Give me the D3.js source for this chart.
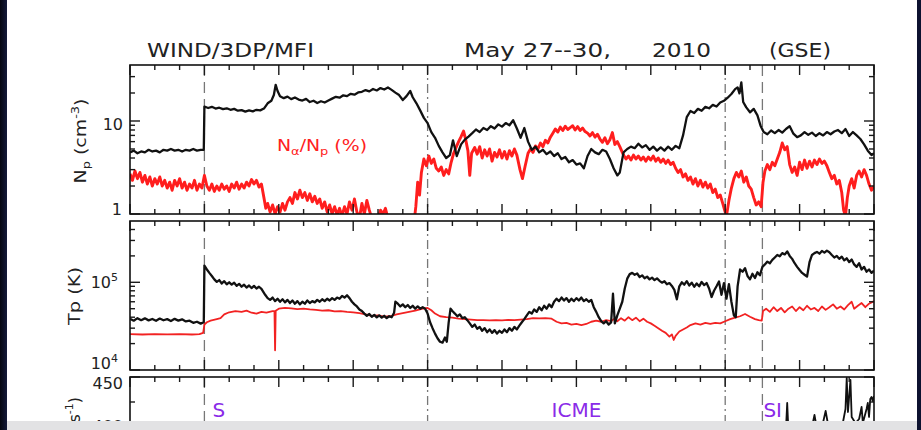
<!DOCTYPE html>
<html>
<head>
<meta charset="utf-8">
<script src="https://cdn.jsdelivr.net/npm/d3@7"></script>
<style>
  html, body { margin: 0; padding: 0; background: #fff; }
  svg { display: block; }
</style>
</head>
<body>
<svg id="chart" width="921" height="430"></svg>
<script>
// WIND 3DP/MFI plasma summary, May 27--30 2010 (GSE).
// Time is given in hours from the left edge of the plot window (60 h span).

// Proton density Np (cm^-3): [hour, value]
const protonDensity = [
  [0,4.6],[0.3,4.8],[0.6,4.5],[0.9,4.7],[1.2,4.6],[1.5,4.9],[1.8,4.7],[2.1,4.8],[2.4,4.6],[2.7,4.9],
  [3,4.8],[3.3,5.0],[3.6,4.8],[3.9,4.9],[4.2,4.7],[4.5,4.9],[4.8,4.8],[5.1,5.0],[5.4,4.8],[5.7,4.9],[5.95,4.9],
  [6,14.3],[6.3,13.8],[6.6,14.2],[6.9,13.6],[7.2,13.9],[7.5,13.4],[7.8,13.7],[8.1,13.2],[8.4,13.5],[8.7,12.9],
  [9,13.1],[9.3,12.6],[9.6,13.0],[9.9,12.7],[10.2,13.2],[10.5,13.0],[10.8,13.6],[11.1,15.5],[11.4,16.5],
  [11.6,19],[11.75,24.5],[11.9,21],[12.1,18.5],[12.4,17.6],[12.7,18.3],[13,17.2],[13.3,17.9],[13.6,17.0],
  [13.9,16.6],[14.2,17.3],[14.5,16.0],[14.8,16.5],[15.1,15.6],[15.4,16.3],[15.7,15.8],[16,16.6],
  [16.3,17.4],[16.6,18.2],[16.9,17.8],[17.2,18.9],[17.5,18.5],[17.8,19.6],[18.1,19.2],[18.4,20.3],
  [18.7,20.6],[19,21.5],[19.3,20.8],[19.6,22.1],[19.9,21.3],[20.2,22.6],[20.5,21.8],[20.8,22.9],
  [21.1,21.6],[21.4,20.2],[21.7,19.0],[22,16.8],[22.3,18.5],[22.6,21.0],[22.8,18.0],[23.1,15.5],[23.4,13.0],
  [23.7,10.8],[24,9.5],[24.3,7.6],[24.6,6.6],[24.9,5.4],[25.2,4.6],[25.5,4.0],[25.8,4.3],[26.05,6.2],
  [26.35,4.2],[26.7,5.6],[27,6.3],[27.3,6.8],[27.6,7.4],[27.9,8.1],[28.2,7.6],[28.5,8.4],[28.8,8.0],
  [29.1,8.8],[29.4,8.3],[29.7,9.2],[30,8.7],[30.3,9.5],[30.6,9.0],[30.9,10.2],[31.2,8.3],[31.5,6.6],
  [31.8,8.4],[32.1,6.0],[32.4,4.9],[32.7,5.3],[33,4.6],[33.3,4.9],[33.6,4.4],[33.9,4.7],[34.2,4.2],
  [34.5,4.5],[34.8,3.9],[35.1,4.1],[35.4,3.6],[35.7,3.8],[36,3.4],[36.3,3.5],[36.6,3.1],[36.9,4.2],
  [37.2,5.0],[37.5,4.6],[37.8,4.4],[38.1,4.9],[38.4,4.7],[38.7,3.9],[39,3.1],[39.3,2.6],[39.5,2.8],
  [39.8,4.6],[40.1,5.0],[40.4,5.3],[40.7,5.1],[41,5.7],[41.3,5.2],[41.6,5.5],[41.9,4.9],[42.2,5.3],
  [42.5,4.8],[42.8,5.2],[43.1,4.8],[43.4,5.3],[43.7,4.9],[44,5.4],[44.3,5.1],[44.6,7.0],[44.9,11.0],
  [45.2,12.8],[45.5,12.2],[45.8,13.5],[46.1,12.9],[46.4,14.2],[46.7,13.7],[47,14.9],[47.3,14.3],
  [47.6,15.8],[47.9,16.5],[48.2,17.8],[48.5,19.5],[48.8,22],[49.0,23],[49.15,19.8],[49.3,26],
  [49.45,16],[49.7,14],[50,12.4],[50.3,13.5],[50.6,11.5],[50.85,8.9],[51.1,7.6],[51.4,7.2],[51.7,7.9],
  [52,7.4],[52.3,8.0],[52.6,7.5],[52.9,8.2],[53.2,8.8],[53.5,7.3],[53.8,6.7],[54.1,7.0],[54.4,7.6],
  [54.7,7.1],[55,7.5],[55.3,6.9],[55.6,7.4],[55.9,7.0],[56.2,7.6],[56.5,7.2],[56.8,7.7],[57.1,8.0],
  [57.4,7.4],[57.7,8.2],[58,6.9],[58.3,7.6],[58.6,7.0],[58.9,6.4],[59.2,5.6],[59.5,4.8],[59.8,4.3],[60,4.5]
];

// Alpha-to-proton density ratio Na/Np (%): [hour, value]
const alphaRatio = [
  [0,2.7],[0.2,2.3],[0.4,2.9],[0.6,2.4],[0.8,2.8],[1,2.2],[1.2,2.6],[1.4,2.1],[1.6,2.5],[1.8,2.0],
  [2,2.4],[2.2,2.1],[2.4,2.5],[2.6,2.0],[2.8,2.3],[3,1.9],[3.2,2.2],[3.4,1.8],[3.6,2.3],[3.8,2.0],
  [4,2.4],[4.2,1.9],[4.4,2.2],[4.6,1.8],[4.8,2.1],[5,1.9],[5.2,2.3],[5.4,1.8],[5.6,2.1],[5.8,1.9],
  [6,2.6],[6.2,2.0],[6.4,1.8],[6.6,2.1],[6.8,1.75],[7,2.0],[7.2,1.8],[7.4,2.1],[7.6,1.85],[7.8,2.0],
  [8,1.75],[8.2,2.1],[8.4,1.9],[8.6,2.2],[8.8,1.85],[9,2.1],[9.2,1.9],[9.4,2.2],[9.6,2.0],[9.8,2.35],
  [10,2.1],[10.2,2.3],[10.4,1.95],[10.6,2.1],[10.8,1.5],[10.95,1.15],[11.1,1.3],[11.3,1.05],[11.5,1.25],
  [11.7,1.0],[11.9,1.2],[12.1,1.05],[12.3,1.3],[12.5,1.1],[12.7,1.35],[12.9,1.5],[13.1,1.3],[13.3,1.7],
  [13.5,1.45],[13.7,1.8],[13.9,1.5],[14.1,1.7],[14.3,1.4],[14.5,1.65],[14.7,1.35],[14.9,1.55],[15.1,1.3],
  [15.3,1.45],[15.5,1.15],[15.7,1.35],[15.9,1.05],[16.1,1.25],[16.3,1.0],[16.5,1.2],[16.7,0.98],
  [16.9,1.15],[17.1,0.95],[17.3,1.2],[17.5,1.0],[17.7,1.35],[17.9,1.1],[18.1,1.45],[18.3,1.05],
  [18.5,0.9],[18.7,1.3],[18.9,1.0],[19.1,1.4],[19.3,1.1],[19.5,0.9],[19.7,0.85],[20,0.9],[20.2,1.1],
  [20.4,1.0],[20.6,1.15],[20.8,0.9],[21,0.8],[21.5,0.75],[22,0.8],[22.5,0.75],[22.9,0.8],[23.05,1.2],
  [23.2,2.2],[23.35,1.6],[23.5,2.8],[23.7,3.9],[23.9,3.3],[24.1,4.2],[24.3,3.5],[24.5,3.9],[24.7,3.1],
  [24.9,2.9],[25.1,3.2],[25.3,2.6],[25.5,3.0],[25.7,2.7],[25.9,3.6],[26.1,4.5],[26.3,5.2],[26.5,6.0],
  [26.7,6.8],[26.9,7.8],[27.05,6.5],[27.25,4.8],[27.4,2.6],[27.55,4.5],[27.8,5.2],[28,4.4],[28.2,5.3],
  [28.4,4.0],[28.6,4.9],[28.8,4.2],[29,5.0],[29.2,3.7],[29.4,4.6],[29.6,4.1],[29.8,4.9],[30,4.0],
  [30.2,4.7],[30.4,3.9],[30.6,4.8],[30.8,4.2],[31,5.0],[31.2,4.3],[31.45,3.0],[31.65,2.4],[31.85,3.2],
  [32.1,4.5],[32.3,5.0],[32.5,4.6],[32.7,5.4],[32.9,5.0],[33.1,5.8],[33.3,5.3],[33.5,6.2],[33.7,5.8],
  [33.9,6.7],[34.1,7.4],[34.3,8.2],[34.5,7.6],[34.7,8.6],[34.9,7.9],[35.1,8.8],[35.3,8.1],[35.5,8.5],
  [35.7,8.9],[35.9,8.0],[36.1,8.7],[36.3,7.9],[36.5,8.4],[36.7,7.7],[36.9,7.4],[37.1,6.9],[37.3,7.5],
  [37.5,6.7],[37.7,7.2],[37.9,6.4],[38.1,5.9],[38.3,6.6],[38.5,5.7],[38.7,6.3],[38.9,7.5],[39.1,5.6],
  [39.3,6.0],[39.5,5.3],[39.8,4.3],[40,3.9],[40.2,4.2],[40.4,3.8],[40.6,4.3],[40.8,3.9],[41,4.2],
  [41.2,3.8],[41.4,4.1],[41.6,3.7],[41.8,4.1],[42,3.8],[42.2,4.2],[42.4,3.7],[42.6,4.0],[42.8,3.6],
  [43,3.9],[43.2,3.5],[43.4,3.8],[43.6,3.4],[43.8,3.6],[44,3.1],[44.2,2.8],[44.4,3.0],[44.6,2.5],
  [44.8,2.7],[45,2.3],[45.2,2.5],[45.4,2.1],[45.6,2.4],[45.8,2.0],[46,2.3],[46.2,1.95],[46.4,2.2],
  [46.6,1.9],[46.8,2.1],[47,1.7],[47.2,1.85],[47.4,1.5],[47.6,1.6],[47.8,1.3],[48,1.05],[48.1,0.95],
  [48.3,1.4],[48.5,1.9],[48.7,2.4],[48.9,2.8],[49.1,2.5],[49.3,2.9],[49.5,2.2],[49.7,2.5],[49.9,2.0],
  [50.1,1.85],[50.3,1.5],[50.5,1.25],[50.7,1.35],[50.9,1.2],[51.05,2.2],[51.2,2.9],[51.4,3.4],[51.6,3.0],
  [51.8,3.6],[52,3.3],[52.2,3.9],[52.4,4.6],[52.6,5.8],[52.8,4.9],[53,5.3],[53.2,3.4],[53.4,2.8],
  [53.6,3.2],[53.8,2.6],[54,3.6],[54.2,3.0],[54.4,3.8],[54.6,3.1],[54.8,3.7],[55,3.2],[55.2,3.8],
  [55.4,3.4],[55.6,3.9],[55.8,3.5],[56,3.7],[56.2,3.3],[56.4,2.8],[56.6,2.4],[56.8,2.6],[57,2.1],
  [57.2,2.3],[57.4,1.7],[57.55,1.1],[57.7,0.95],[57.85,1.5],[58,2.0],[58.2,2.4],[58.4,1.9],[58.6,2.6],
  [58.8,2.9],[59,2.5],[59.2,3.0],[59.4,2.6],[59.6,2.1],[59.8,1.8],[60,2.0]
];

// Proton temperature Tp (K): [hour, value]
const protonTemp = [
  [0,38500],[0.3,36500],[0.6,39000],[0.9,37000],[1.2,38800],[1.5,36800],[1.8,38200],[2.1,36400],
  [2.4,38600],[2.7,36900],[3,38000],[3.3,36200],[3.6,38300],[3.9,36600],[4.2,37800],[4.5,35800],
  [4.8,36500],[5.1,34500],[5.4,35500],[5.7,33800],[5.95,35000],[6,155000],[6.2,140000],[6.4,128000],
  [6.6,118000],[6.8,108000],[7,101000],[7.2,106000],[7.4,97000],[7.6,103000],[7.8,95000],[8,100000],
  [8.2,94000],[8.4,99000],[8.6,91000],[8.8,96000],[9,89000],[9.2,94000],[9.4,87000],[9.6,92000],
  [9.8,86000],[10,91000],[10.2,85000],[10.4,89000],[10.6,84000],[10.9,72000],[11.1,66000],[11.3,63000],
  [11.5,67000],[11.7,61000],[11.9,65000],[12.1,60000],[12.3,64000],[12.5,59000],[12.7,63000],
  [12.9,58000],[13.1,62000],[13.3,57000],[13.5,61000],[13.7,56000],[13.9,60000],[14.1,57000],
  [14.3,62000],[14.5,58000],[14.7,61000],[14.9,59000],[15.1,63000],[15.3,60000],[15.5,64000],
  [15.7,61000],[15.9,65000],[16.1,62000],[16.3,66000],[16.5,63000],[16.7,67000],[16.9,65000],
  [17.1,70000],[17.3,67000],[17.5,71000],[17.7,66000],[17.9,60000],[18.1,56000],[18.3,53000],
  [18.5,49000],[18.7,47000],[18.9,44000],[19.1,41500],[19.3,43500],[19.5,40500],[19.7,42500],
  [19.9,39800],[20.1,42000],[20.3,39500],[20.5,41500],[20.7,39000],[20.9,41000],[21.1,40000],
  [21.3,45000],[21.4,60000],[21.6,57000],[21.8,53000],[22,56000],[22.2,52000],[22.4,55000],
  [22.6,51000],[22.8,54000],[23,50000],[23.2,53000],[23.4,50000],[23.6,52000],[23.8,50000],
  [24,44000],[24.2,35000],[24.4,30000],[24.6,26000],[24.8,23000],[25,21000],[25.2,20500],[25.4,23500],
  [25.55,21000],[25.7,35000],[25.85,50000],[26,47000],[26.2,44000],[26.4,41000],[26.6,43000],
  [26.8,39000],[27,40000],[27.2,37000],[27.4,34000],[27.6,31000],[27.8,33000],[28,29500],[28.2,31000],
  [28.4,28000],[28.6,30000],[28.8,27000],[29,29000],[29.2,26500],[29.4,28500],[29.6,26000],
  [29.8,28000],[30,26500],[30.2,29000],[30.4,27000],[30.6,30000],[30.8,28000],[31,31000],[31.2,29000],
  [31.4,32000],[31.6,35000],[31.8,38000],[32,42000],[32.2,46000],[32.4,44000],[32.6,49000],
  [32.8,46000],[33,52000],[33.2,48000],[33.4,54000],[33.6,50000],[33.8,56000],[34,52000],[34.2,60000],
  [34.4,65000],[34.6,61000],[34.8,67000],[35,62000],[35.2,66000],[35.4,60000],[35.6,65000],
  [35.8,61000],[36,66000],[36.2,62000],[36.4,67000],[36.6,61000],[36.8,64000],[37,60000],[37.2,63000],
  [37.4,52000],[37.6,46000],[37.8,40000],[38,36000],[38.2,34000],[38.4,36000],[38.6,33000],
  [38.8,35000],[38.95,74000],[39.1,34000],[39.3,42000],[39.5,50000],[39.7,60000],[39.9,85000],
  [40.1,110000],[40.3,124000],[40.5,128000],[40.7,122000],[40.9,126000],[41.1,115000],[41.3,120000],
  [41.5,111000],[41.7,116000],[41.9,108000],[42.1,113000],[42.3,106000],[42.5,111000],[42.7,104000],
  [42.9,99000],[43.1,103000],[43.3,95000],[43.5,98000],[43.7,91000],[43.9,82000],[44.1,64000],
  [44.3,90000],[44.5,100000],[44.7,94000],[44.9,103000],[45.1,92000],[45.3,99000],[45.5,89000],
  [45.7,97000],[45.9,90000],[46.1,101000],[46.3,93000],[46.5,98000],[46.7,85000],[46.9,68000],
  [47.1,80000],[47.3,90000],[47.5,102000],[47.7,72000],[47.9,98000],[48.1,65000],[48.3,95000],
  [48.5,60000],[48.7,42000],[48.85,40000],[49,90000],[49.2,140000],[49.4,132000],[49.6,145000],
  [49.8,118000],[50,108000],[50.2,125000],[50.4,112000],[50.6,130000],[50.8,120000],[51,150000],
  [51.2,160000],[51.4,172000],[51.6,165000],[51.8,180000],[52,192000],[52.2,205000],[52.4,198000],
  [52.6,215000],[52.8,208000],[53,225000],[53.2,200000],[53.4,185000],[53.6,165000],[53.8,150000],
  [54,138000],[54.2,128000],[54.4,122000],[54.6,116000],[54.8,170000],[55,205000],[55.2,215000],
  [55.4,222000],[55.6,212000],[55.8,228000],[56,218000],[56.2,230000],[56.4,220000],[56.6,205000],
  [56.8,192000],[57,200000],[57.2,185000],[57.4,196000],[57.6,178000],[57.8,188000],[58,170000],
  [58.2,182000],[58.4,160000],[58.6,150000],[58.8,165000],[59,140000],[59.2,150000],[59.4,132000],
  [59.6,140000],[59.8,128000],[60,136000]
];

// Expected proton temperature Texp (K): [hour, value]
const expectedTemp = [
  [0,25600],[1,25400],[2,25700],[3,25500],[4,25600],[5,25400],[5.6,25600],[5.9,26500],[6,33000],
  [6.2,35000],[6.5,36500],[7,38000],[7.3,39000],[7.6,43000],[8,45500],[8.5,47000],[9,46000],
  [9.4,47500],[9.8,45000],[10.2,44000],[10.6,46000],[11,45000],[11.5,47000],[11.65,47000],
  [11.7,16800],[11.75,47500],[12,50000],[12.5,51000],[13,50500],[13.5,49500],[14,50000],[14.5,49000],
  [15,48500],[15.5,47500],[16,48000],[16.5,46500],[17,47000],[17.5,46000],[18,45500],[18.5,44500],
  [19,43000],[19.5,41500],[20,42000],[20.5,40500],[21,41000],[21.5,43000],[22,44500],[22.5,46000],
  [23,47500],[23.6,50000],[24,51000],[24.3,48000],[24.6,44000],[25,41000],[25.5,40000],[26,39500],
  [26.5,38500],[27,38000],[27.5,37500],[28,37000],[28.5,37000],[29,36800],[29.5,37000],[30,36800],
  [30.5,37200],[31,37000],[31.5,37500],[32,38000],[32.5,39000],[33,38700],[33.5,39000],[34,38500],
  [34.4,35500],[34.8,34000],[35.2,34500],[35.6,33000],[36,33500],[36.4,32500],[36.8,33500],
  [37.2,35500],[37.6,36500],[38,35500],[38.4,37000],[38.8,36000],[39,38000],[39.3,36000],[39.6,39000],
  [39.9,36500],[40.2,40000],[40.5,37000],[40.8,39500],[41.1,36000],[41.4,38500],[41.7,35500],
  [42,34000],[42.3,32000],[42.6,30000],[42.9,28000],[43.2,26500],[43.5,24000],[43.7,25500],
  [43.85,22000],[44,24500],[44.3,27500],[44.6,29000],[44.9,30500],[45.2,32500],[45.6,34000],
  [46,33000],[46.4,34500],[46.8,33500],[47.2,34500],[47.6,34000],[48,36000],[48.4,38000],[48.8,39500],
  [49.2,41000],[49.6,43500],[50,40500],[50.4,38000],[50.7,37000],[50.95,36500],[51.05,47000],
  [51.3,50000],[51.6,46000],[51.9,52000],[52.2,47000],[52.5,51000],[52.8,45500],[53.1,50000],
  [53.4,53000],[53.7,47000],[54,52000],[54.3,48000],[54.6,54000],[54.9,49000],[55.2,51000],
  [55.5,47000],[55.8,53000],[56.1,48500],[56.4,52000],[56.7,56000],[57,50000],[57.3,53000],
  [57.6,49000],[57.9,55000],[58.2,60000],[58.4,50000],[58.7,54000],[59,58000],[59.3,52000],
  [59.6,57000],[60,61000]
];

// Proton bulk speed Vp (km/s): [hour, value]
const protonSpeed = [
  [0,345],[3,348],[5.9,350],[6,372],[10,370],[15,375],[20,372],[24,380],[28,365],[32,370],[36,362],
  [40,375],[44,368],[48,378],[51,385],[52.5,392],[52.9,398],[53,424],[53.1,396],[54,395],[55,400],
  [55.2,412],[55.4,398],[55.9,405],[56.1,416],[56.3,402],[57,400],[57.5,405],[57.7,418],[57.8,449],
  [57.9,415],[58.1,447],[58.2,410],[58.5,404],[58.8,408],[59,420],[59.1,404],[59.4,418],[59.5,424],
  [59.6,410],[59.7,428],[59.8,430],[59.9,426],[60,431]
];

// Event boundaries (hours): shock, ICME start, ICME end, stream interface
const eventHours = [6, 24, 48, 51];
const eventKinds = ["dash", "dashdot", "dashdot", "dash"];
const eventLabels = [["S", 6], ["ICME", 34], ["SI", 51]];

const titleParts = ["WIND/3DP/MFI", "May 27--30,", "2010", "(GSE)"];

const svg = d3.select("#chart");
const W = 921, H = 430;
const FONT = "'DejaVu Sans', 'Liberation Sans', sans-serif";

svg.append("rect").attr("width", W).attr("height", H).attr("fill", "#ffffff");

const x = d3.scaleLinear().domain([0, 60]).range([130, 874]);

const panels = [
  { top: 65,  bottom: 214, y: d3.scaleLog().domain([1, 40]).range([214, 65]),
    major: [1, 10], minor: [2,3,4,5,6,7,8,9,20,30] },
  { top: 221, bottom: 370, y: d3.scaleLog().domain([1e4, 5e5]).range([370, 221]),
    major: [1e4, 1e5], minor: [2e4,3e4,4e4,5e4,6e4,7e4,8e4,9e4,2e5,3e5,4e5] },
  { top: 377, bottom: 527, y: d3.scaleLinear().domain([300, 450]).range([527, 377]),
    major: [300, 350, 400, 450], minor: [325, 375, 425] }
];

const defs = svg.append("defs");
panels.forEach((p, i) => {
  defs.append("clipPath").attr("id", "clip" + i)
    .append("rect").attr("x", x(0)).attr("y", p.top)
    .attr("width", x(60) - x(0)).attr("height", p.bottom - p.top);
});

// event boundary lines
const dashFor = k => k === "dash" ? "11,6" : "9,4,2,4";
panels.forEach((p, i) => {
  svg.append("g").attr("clip-path", `url(#clip${i})`)
    .selectAll("line").data(eventHours).join("line")
    .attr("x1", d => x(d)).attr("x2", d => x(d))
    .attr("y1", p.top).attr("y2", p.bottom)
    .attr("stroke", "#777").attr("stroke-width", 1.3)
    .attr("stroke-dasharray", (d, j) => dashFor(eventKinds[j]));
});

function drawSeries(panelIndex, data, color, width) {
  const p = panels[panelIndex];
  const line = d3.line().x(d => x(d[0])).y(d => p.y(d[1]));
  svg.append("path").attr("clip-path", `url(#clip${panelIndex})`)
    .attr("d", line(data)).attr("fill", "none")
    .attr("stroke", color).attr("stroke-width", width)
    .attr("stroke-linejoin", "round");
}

drawSeries(0, alphaRatio, "#ff1e1e", 2.9);
drawSeries(0, protonDensity, "#111", 2.3);
drawSeries(1, expectedTemp, "#f22222", 1.8);
drawSeries(1, protonTemp, "#111", 2.3);
drawSeries(2, protonSpeed, "#111", 1.8);

// axes: ticks on all four sides, frame
const hourTicks = d3.range(0, 60.001, 2);
panels.forEach(p => {
  const g = svg.append("g").attr("stroke", "#1a1a1a").attr("stroke-width", 1.4);
  hourTicks.forEach(h => {
    const len = h % 6 === 0 ? 10 : 5;
    g.append("line").attr("x1", x(h)).attr("x2", x(h)).attr("y1", p.top).attr("y2", p.top + len);
    g.append("line").attr("x1", x(h)).attr("x2", x(h)).attr("y1", p.bottom).attr("y2", p.bottom - len);
  });
  const yt = p.major.map(v => [v, 10]).concat(p.minor.map(v => [v, 5]));
  yt.forEach(([v, len]) => {
    const yy = p.y(v);
    g.append("line").attr("x1", x(0)).attr("x2", x(0) + len).attr("y1", yy).attr("y2", yy);
    g.append("line").attr("x1", x(60)).attr("x2", x(60) - len).attr("y1", yy).attr("y2", yy);
  });
  svg.append("rect").attr("x", x(0)).attr("y", p.top)
    .attr("width", x(60) - x(0)).attr("height", p.bottom - p.top)
    .attr("fill", "none").attr("stroke", "#111").attr("stroke-width", 1.6);
});

// tick labels
const lbl = svg.append("g").attr("font-family", FONT).attr("font-size", 16).attr("fill", "#222");
lbl.append("text").attr("x", 123).attr("y", panels[0].y(10) + 9).attr("text-anchor", "end").text("10");
lbl.append("text").attr("x", 122).attr("y", panels[0].y(1) + 1).attr("text-anchor", "end").text("1");
[[1e5, 6], [1e4, -1]].forEach(([v, off]) => {
  const t = lbl.append("text").attr("x", 118).attr("y", panels[1].y(v) + off).attr("text-anchor", "end");
  t.append("tspan").text("10");
  t.append("tspan").attr("dy", -7).attr("font-size", 11).text(Math.log10(v));
});
lbl.append("text").attr("x", 123).attr("y", panels[2].y(450) + 12).attr("text-anchor", "end").text("450");
lbl.append("text").attr("x", 123).attr("y", panels[2].y(400) + 5).attr("text-anchor", "end").text("400");

// y-axis titles
const t1 = svg.append("text").attr("font-family", FONT).attr("font-size", 16).attr("fill", "#222")
  .attr("text-anchor", "middle").attr("transform", "translate(86,141) rotate(-90)")
  .attr("textLength", 85).attr("lengthAdjust", "spacingAndGlyphs");
t1.append("tspan").text("N");
t1.append("tspan").attr("dy", 4).attr("font-size", 11).text("p");
t1.append("tspan").attr("dy", -4).text(" (cm");
t1.append("tspan").attr("dy", -7).attr("font-size", 11).text("-3");
t1.append("tspan").attr("dy", 7).text(")");

svg.append("text").attr("font-family", FONT).attr("font-size", 16).attr("fill", "#222")
  .attr("text-anchor", "middle").attr("transform", "translate(80,296) rotate(-90)")
  .attr("textLength", 58).attr("lengthAdjust", "spacingAndGlyphs").text("Tp (K)");

const t3 = svg.append("text").attr("font-family", FONT).attr("font-size", 16).attr("fill", "#222")
  .attr("text-anchor", "end").attr("transform", "translate(80,397) rotate(-90)");
t3.append("tspan").text("V (km s");
t3.append("tspan").attr("dy", -7).attr("font-size", 11).text("-1");
t3.append("tspan").attr("dy", 7).text(")");

// ratio label inside the density panel
const rl = svg.append("text").attr("font-family", FONT).attr("font-size", 16).attr("fill", "#ff2020")
  .attr("x", 277).attr("y", 151).attr("textLength", 90).attr("lengthAdjust", "spacingAndGlyphs");
rl.append("tspan").text("N");
rl.append("tspan").attr("dy", 4).attr("font-size", 11).text("α");
rl.append("tspan").attr("dy", -4).text("/N");
rl.append("tspan").attr("dy", 4).attr("font-size", 11).text("p");
rl.append("tspan").attr("dy", -4).text(" (%)");

// header
const title = svg.append("g").attr("font-family", FONT).attr("font-size", 19).attr("fill", "#222");
const titleX = [[147, 167], [464, 147], [652, 59], [769, 62]];
titleParts.forEach((s, i) => {
  title.append("text").attr("x", titleX[i][0]).attr("y", 57)
    .attr("textLength", titleX[i][1]).attr("lengthAdjust", "spacingAndGlyphs").text(s);
});

// event labels
svg.append("g").attr("font-family", FONT).attr("font-size", 20).attr("fill", "#8a2be8")
  .selectAll("text").data(eventLabels).join("text")
  .attr("x", d => x(d[1]) + (d[0] === "S" ? 8 : d[0] === "SI" ? 1 : 0))
  .attr("y", 417).text(d => d[0]);

// screen border
const grad = defs.append("linearGradient").attr("id", "edge").attr("x1", 0).attr("x2", 1);
grad.append("stop").attr("offset", 0).attr("stop-color", "#04060f");
grad.append("stop").attr("offset", 1).attr("stop-color", "#141a3a");
svg.append("rect").attr("x", 0).attr("y", 421).attr("width", W).attr("height", 9).attr("fill", "#e2e2e4");
svg.append("rect").attr("x", 0).attr("y", 0).attr("width", 7).attr("height", H).attr("fill", "url(#edge)");
svg.append("rect").attr("x", 917).attr("y", 0).attr("width", 4).attr("height", H).attr("fill", "#0d1230");
</script>
</body>
</html>
